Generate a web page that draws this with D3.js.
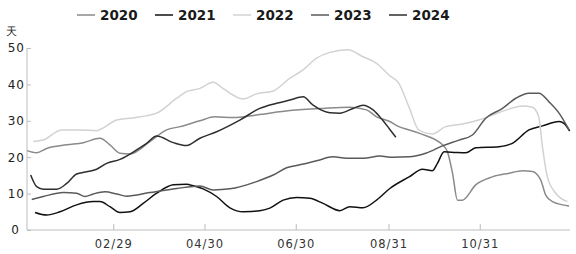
<!DOCTYPE html>
<html>
<head>
<meta charset="utf-8">
<script src="https://cdn.jsdelivr.net/npm/d3@7"></script>
<style>
  html, body { margin: 0; padding: 0; background: #fff; }
  svg { display: block; }
  text { font-family: "DejaVu Sans", sans-serif; }
</style>
</head>
<body>
<svg id="chart" width="576" height="254"></svg>
<script>
// ---- data (x = day offset from Jan 1, y = days) ----
const seriesNames = ["2020", "2021", "2022", "2023", "2024"];
const seriesColors = ["#8a8a8a", "#111111", "#d2d2d2", "#5a5a5a", "#2e2e2e"];

const day2020 = [1.5, 7.8, 14.5, 27.9, 39, 50.1, 56.8, 63.5, 70.2, 83.5, 94.7, 103.6, 116.9, 126.9, 139, 154.8, 177.1, 199.3, 217.1, 228.3, 235, 243.9, 247.9, 263.4, 279.1, 282.4, 285.8, 289.1, 292.4, 301.3, 312.5, 323.6, 332.5, 339.2, 344.8, 348.1, 352.6, 363.7];
const val2020 = [21.8, 21.2, 22.4, 23.4, 24, 25.2, 23.4, 21.1, 20.9, 24.3, 27.5, 28.4, 30, 31.1, 30.9, 31.6, 32.8, 33.4, 33.7, 33, 31.1, 29.8, 28.8, 26.6, 23.4, 21.5, 15.6, 8.2, 8.2, 12.4, 14.6, 15.6, 16.3, 16.1, 13.7, 9.6, 7.8, 6.6];

const day2021 = [6.7, 14.5, 23.4, 34.5, 45.6, 50.1, 56.8, 63.5, 70.2, 79, 88, 99.1, 108, 110.2, 119.1, 128.1, 137, 145.9, 157, 163.7, 172.6, 181.5, 190.4, 199.3, 210.5, 217.1, 226, 235, 243.9, 256.8, 265.7, 272.4, 275.7, 280.2, 288, 294.6, 301.3, 316.9, 325.8, 336.9, 345.9, 357, 360.3, 364.1];
const val2021 = [4.8, 4.1, 5, 6.9, 7.8, 7.8, 6.4, 4.8, 5, 7.3, 10.1, 12.4, 12.6, 12.4, 11.3, 9.2, 6.1, 5, 5.3, 6, 8.2, 8.9, 8.7, 7.3, 5.3, 6.4, 6.1, 8.2, 11.4, 14.6, 16.7, 16.3, 18.3, 21.5, 21.3, 21.2, 22.6, 22.9, 23.8, 27.5, 28.6, 29.8, 29.3, 27.2];

const day2022 = [5.5, 12.2, 24.5, 36.7, 47.9, 52.1, 61.3, 72.2, 88, 101.4, 108, 116.9, 125.8, 132.3, 145.9, 154.8, 165.9, 177.1, 185.9, 194.9, 203.8, 215.8, 226, 235, 243.5, 249.9, 256.6, 263.2, 272.4, 281.3, 292.4, 303.3, 312.5, 323.4, 332.5, 339.2, 343.4, 345.9, 349.2, 354.8, 362.6];
const val2022 = [24.3, 24.7, 27.5, 27.5, 27.3, 28, 30.2, 30.8, 32.1, 36.2, 38, 38.9, 40.6, 38.9, 36, 37.4, 38.2, 41.7, 44, 47.2, 48.8, 49.5, 47.6, 45.8, 42.5, 40.3, 33.9, 27.5, 26.4, 28.4, 29.1, 30.2, 31.6, 33.2, 34.1, 33.7, 31.1, 22.9, 14.6, 10.1, 7.8];

const day2023 = [4.5, 12.2, 25.6, 34.5, 40.1, 45.6, 53.5, 61.3, 67.9, 83.5, 101.4, 116.9, 125.8, 137, 154.8, 165.9, 174.9, 183.7, 194.9, 206, 214.9, 226, 237.2, 245.7, 256.8, 267.9, 279.1, 290.2, 299.1, 308, 319.2, 328.1, 336.9, 343.6, 350.3, 357, 363.7];
const val2023 = [8.4, 9.2, 10.3, 10.1, 9.2, 9.9, 10.5, 9.9, 9.3, 10.3, 11.4, 12.1, 11, 11.3, 13.3, 15.1, 17.1, 17.9, 19, 20.1, 19.7, 19.7, 20.3, 20, 20.1, 21.1, 23.1, 24.7, 26.1, 30.7, 33.4, 36.2, 37.6, 37.6, 35.2, 32.1, 27.5];

const day2024 = [3.8, 7.8, 12.2, 21.2, 27.9, 34.5, 41.2, 47.9, 54.6, 63.5, 74.6, 81.3, 88, 99.1, 108, 116.9, 128.1, 143.6, 157, 168.2, 177.1, 185.9, 192.6, 203.8, 210.5, 219.3, 226, 232.7, 239, 243.4, 247.9];
const val2024 = [15.1, 11.9, 11.2, 11.2, 12.8, 15.4, 16, 16.7, 18.3, 19.4, 22, 23.8, 25.8, 24, 23.2, 25.2, 27, 30.2, 33.4, 34.8, 35.7, 36.6, 34.3, 32.2, 32.1, 33.4, 34.3, 33, 30.2, 27.9, 25.5];

const seriesDays = [day2020, day2021, day2022, day2023, day2024];
const seriesVals = [val2020, val2021, val2022, val2023, val2024];

const xTickDays = [59, 120, 181, 243, 304];
const xTickLabels = ["02/29", "04/30", "06/30", "08/31", "10/31"];
const yTicks = [0, 10, 20, 30, 40, 50];
const yUnit = "天";

// ---- layout ----
const svg = d3.select("#chart");
const x = d3.scaleLinear().domain([0, 365]).range([25, 571]);
const y = d3.scaleLinear().domain([0, 50]).range([230, 48]);
const axisLeftX = 27, axisRightX = 570;
const axisColor = "#bdbdbd";

// y axis
const gy = svg.append("g").attr("transform", `translate(${axisLeftX},0)`)
  .call(d3.axisLeft(y).tickValues(yTicks).tickSizeInner(-4).tickSizeOuter(0).tickPadding(6));
gy.select(".domain").remove();
gy.selectAll(".tick line").attr("stroke", axisColor);
gy.selectAll(".tick text")
  .attr("fill", "#222").attr("font-size", 12).attr("letter-spacing", 1)
  .attr("x", d => d === 0 ? -7 : -2)
  .attr("font-family", "DejaVu Sans");

// x axis
const gx = svg.append("g").attr("transform", `translate(0,${y(0)})`)
  .call(d3.axisBottom(x).tickValues(xTickDays).tickFormat((d, i) => xTickLabels[i])
    .tickSizeInner(-6).tickSizeOuter(0).tickPadding(10));
gx.select(".domain").remove();
gx.selectAll(".tick line").attr("stroke", axisColor);
gx.selectAll(".tick text")
  .attr("fill", "#333").attr("font-size", 11.5).attr("letter-spacing", 1)
  .attr("font-family", "DejaVu Sans");

// axis lines
svg.append("line").attr("x1", axisLeftX).attr("x2", axisLeftX)
  .attr("y1", y(50)).attr("y2", y(0)).attr("stroke", axisColor).attr("stroke-width", 1);
svg.append("line").attr("x1", axisLeftX).attr("x2", axisRightX)
  .attr("y1", y(0)).attr("y2", y(0)).attr("stroke", axisColor).attr("stroke-width", 1);

// unit label
svg.append("text").attr("x", 6).attr("y", 35).text(yUnit)
  .attr("font-size", 11).attr("fill", "#222")
  .attr("font-family", "Noto Sans CJK SC");

// lines
const line = d3.line().x(d => x(d[0])).y(d => y(d[1])).curve(d3.curveMonotoneX);
seriesNames.forEach((name, i) => {
  const pts = seriesDays[i].map((d, j) => [d, seriesVals[i][j]]);
  svg.append("path").datum(pts)
    .attr("d", line)
    .attr("fill", "none")
    .attr("stroke", seriesColors[i])
    .attr("stroke-width", 1.5)
    .attr("stroke-linejoin", "round");
});

// legend
const legend = svg.append("g").attr("transform", "translate(77,15)");
const item = legend.selectAll("g").data(seriesNames).join("g")
  .attr("transform", (d, i) => `translate(${i * 78},0)`);
item.append("line").attr("x1", 0).attr("x2", 18).attr("y1", 0).attr("y2", 0)
  .attr("stroke", (d, i) => seriesColors[i]).attr("stroke-width", 1.5);
item.append("text").attr("x", 23).attr("y", 5).text(d => d)
  .attr("font-size", 13.5).attr("font-weight", "bold").attr("fill", "#1a1a1a")
  .attr("font-family", "DejaVu Sans");
</script>
</body>
</html>
